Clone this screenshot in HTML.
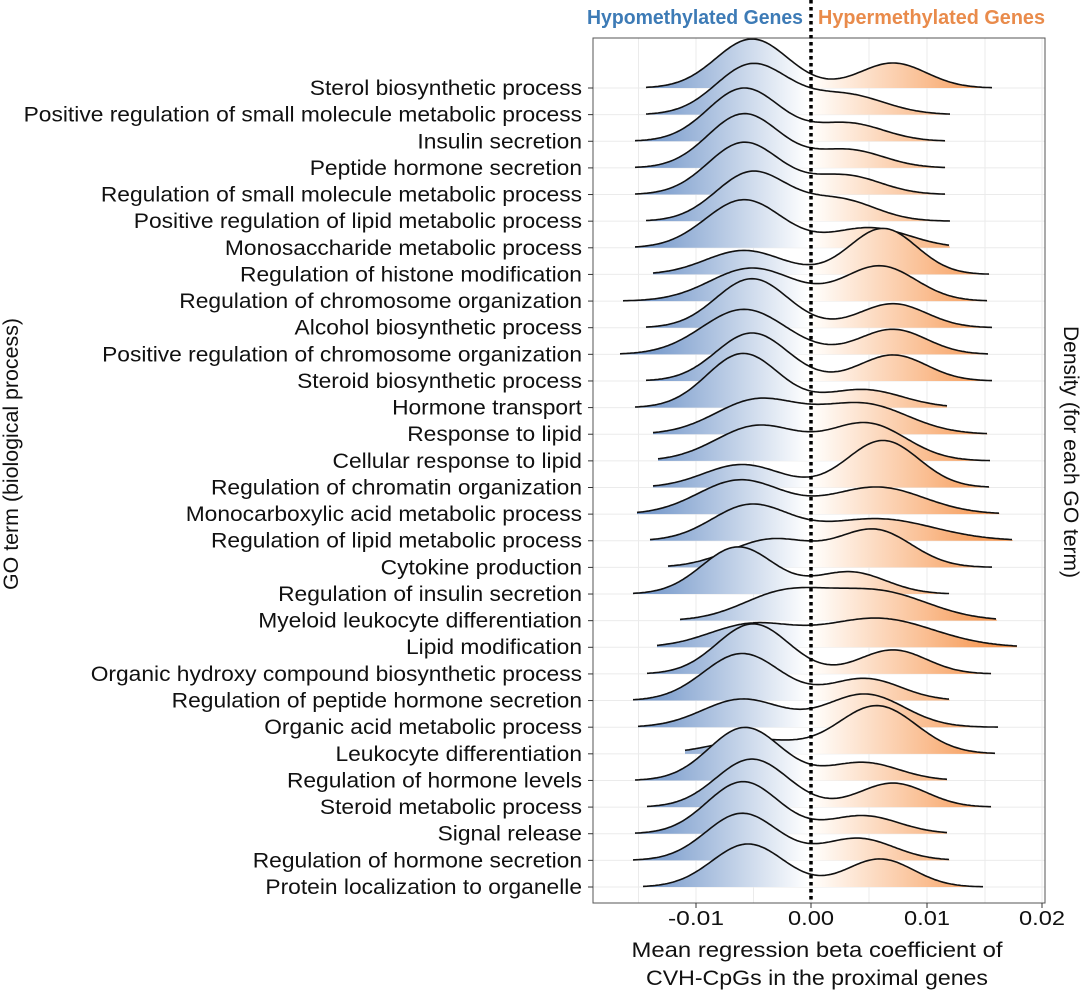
<!DOCTYPE html>
<html><head><meta charset="utf-8"><style>
body{margin:0;background:#fff;}
svg{display:block;font-family:"Liberation Sans",Arial,sans-serif;}
</style></head><body>
<svg id="s" width="1080" height="993" viewBox="0 0 1080 993" xmlns="http://www.w3.org/2000/svg">
<defs>
<linearGradient id="g" gradientUnits="userSpaceOnUse" x1="620" y1="0" x2="1020" y2="0">
<stop offset="0" stop-color="#5f88c2"/>
<stop offset="0.47" stop-color="#ffffff"/>
<stop offset="0.5" stop-color="#fffaf5"/>
<stop offset="1" stop-color="#f5893a"/>
</linearGradient>
</defs>
<rect x="593" y="38" width="452" height="865" fill="#fff"/>
<g id="grid" stroke="#ebebeb" stroke-width="1"></g>
<g id="ridges"></g>
<rect x="593" y="38" width="452" height="865" fill="none" stroke="#555" stroke-width="1"/>
<line x1="811" y1="0" x2="811" y2="903" stroke="#000" stroke-width="3.5" stroke-dasharray="3.5,3.5"/>
<g id="ticks" stroke="#333" stroke-width="1"></g>
<text x="803" y="24" text-anchor="end" font-family="'Liberation Sans Narrow','Liberation Sans',sans-serif" font-weight="bold" font-size="20" fill="#3d7bb6" textLength="216" lengthAdjust="spacingAndGlyphs">Hypomethylated Genes</text>
<text x="818" y="24" font-family="'Liberation Sans Narrow','Liberation Sans',sans-serif" font-weight="bold" font-size="20" fill="#e98b4b" textLength="227" lengthAdjust="spacingAndGlyphs">Hypermethylated Genes</text>
<g font-size="20" fill="#111" text-anchor="middle">
<text x="696" y="925" textLength="56" lengthAdjust="spacingAndGlyphs">-0.01</text>
<text x="811" y="925" textLength="46" lengthAdjust="spacingAndGlyphs">0.00</text>
<text x="927" y="925" textLength="46" lengthAdjust="spacingAndGlyphs">0.01</text>
<text x="1042" y="925" textLength="46" lengthAdjust="spacingAndGlyphs">0.02</text>
</g>
<g font-size="21" fill="#111" text-anchor="middle">
<text x="817" y="957" textLength="371" lengthAdjust="spacingAndGlyphs">Mean regression beta coefficient of</text>
<text x="817" y="985" textLength="342" lengthAdjust="spacingAndGlyphs">CVH-CpGs in the proximal genes</text>
<text transform="translate(18,454) rotate(-90)" textLength="272" lengthAdjust="spacingAndGlyphs">GO term (biological process)</text>
<text transform="translate(1064,452) rotate(90)">Density (for each GO term)</text>
</g>
<g font-size="21" fill="#111" text-anchor="end" transform="translate(582,0) scale(1.085,1) translate(-582,0)">
<text x="582" y="95">Sterol biosynthetic process</text>
<text x="582" y="121.6">Positive regulation of small molecule metabolic process</text>
<text x="582" y="148.3">Insulin secretion</text>
<text x="582" y="174.9">Peptide hormone secretion</text>
<text x="582" y="201.5">Regulation of small molecule metabolic process</text>
<text x="582" y="228.2">Positive regulation of lipid metabolic process</text>
<text x="582" y="254.8">Monosaccharide metabolic process</text>
<text x="582" y="281.4">Regulation of histone modification</text>
<text x="582" y="308">Regulation of chromosome organization</text>
<text x="582" y="334.7">Alcohol biosynthetic process</text>
<text x="582" y="361.3">Positive regulation of chromosome organization</text>
<text x="582" y="387.9">Steroid biosynthetic process</text>
<text x="582" y="414.6">Hormone transport</text>
<text x="582" y="441.2">Response to lipid</text>
<text x="582" y="467.8">Cellular response to lipid</text>
<text x="582" y="494.5">Regulation of chromatin organization</text>
<text x="582" y="521.1">Monocarboxylic acid metabolic process</text>
<text x="582" y="547.7">Regulation of lipid metabolic process</text>
<text x="582" y="574.3">Cytokine production</text>
<text x="582" y="601">Regulation of insulin secretion</text>
<text x="582" y="627.6">Myeloid leukocyte differentiation</text>
<text x="582" y="654.2">Lipid modification</text>
<text x="582" y="680.9">Organic hydroxy compound biosynthetic process</text>
<text x="582" y="707.5">Regulation of peptide hormone secretion</text>
<text x="582" y="734.1">Organic acid metabolic process</text>
<text x="582" y="760.8">Leukocyte differentiation</text>
<text x="582" y="787.4">Regulation of hormone levels</text>
<text x="582" y="814">Steroid metabolic process</text>
<text x="582" y="840.7">Signal release</text>
<text x="582" y="867.3">Regulation of hormone secretion</text>
<text x="582" y="894">Protein localization to organelle</text>
</g>
</svg>
<script>
var D=[[646,992,752,49,30,893,25,30],[646,950,752,50,30,845,20,35],[635,946,744,53,30,848,18,32],[635,946,744,54,30,848,18,32],[635,946,744,52,30,845,19,32],[646,950,752,49,30,840,21,32],[635,950,744,48,32,870,20,35],[653,990,744,24,32,883,46,30],[623,988,752,33,35,880,35,32],[646,992,752,49,30,893,24,30],[620,988,744,45,35,893,25,30],[646,992,752,48,30,893,26,30],[635,947,743,54,30,863,18,35],[653,988,757,34,35,863,30,40],[658,990,758,35,35,867,37,35],[653,990,742,23,32,883,47,32],[637,1000,740,34,35,877,27,42],[650,1013,750,35,32,877,22,50],[668,992,772,28,35,875,37,33],[633,950,738,47,30,850,22,32],[680,997,783,26,35,877,29,45],[657,1017,750,22,35,877,29,50],[647,992,753,50,30,893,24,30],[633,950,742,47,32,865,22,32],[638,998,742,28,33,865,33,35],[685,995,755,14,35,877,48,35],[635,947,745,53,30,863,18,32],[647,992,752,48,30,893,24,30],[635,947,743,52,30,863,18,32],[633,950,742,47,30,858,22,32],[643,983,748,43,30,880,28,30]];
var NS="http://www.w3.org/2000/svg";
function el(p,t,a){var e=document.createElementNS(NS,t);for(var k in a)e.setAttribute(k,a[k]);p.appendChild(e);return e;}
var grid=document.getElementById('grid'),R=document.getElementById('ridges'),T=document.getElementById('ticks');
[638.5,696,753.5,811,869,927,985,1042].forEach(function(x){el(grid,'line',{x1:x,y1:38,x2:x,y2:903});});
for(var i=0;i<31;i++){var y=88+26.633*i;el(grid,'line',{x1:593,y1:y,x2:1045,y2:y});el(T,'line',{x1:588,y1:y,x2:593,y2:y});}
[696,811,927,1042].forEach(function(x){el(T,'line',{x1:x,y1:903,x2:x,y2:908});});
D.forEach(function(d,i){var b=88+26.633*i,pts=[];var s1=d[4]*1.2,s2=d[7]*1.12;
for(var x=d[0];x<=d[1];x+=2){var h=d[3]*Math.exp(-Math.pow(x-d[2],2)/(2*s1*s1))+d[6]*Math.exp(-Math.pow(x-d[5],2)/(2*s2*s2));pts.push(x.toFixed(1)+','+(b-h).toFixed(1));}
var line='M'+pts.join(' L');
el(R,'path',{d:line+' L'+d[1]+','+b+' L'+d[0]+','+b+' Z',fill:'url(#g)'});
el(R,'path',{d:line,fill:'none',stroke:'#111','stroke-width':1.6});});
</script>
</body></html>
